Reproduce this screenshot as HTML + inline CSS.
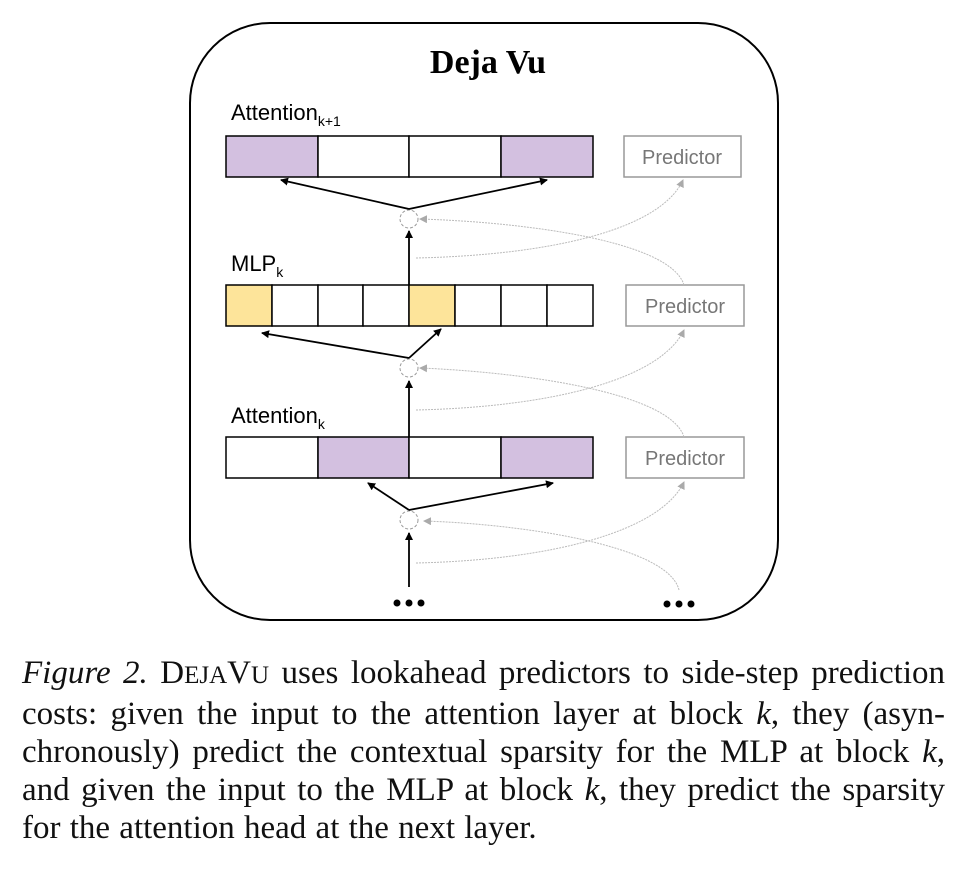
<!DOCTYPE html>
<html><head><meta charset="utf-8"><style>
body{margin:0;background:#fff;width:968px;height:874px;overflow:hidden;position:relative}
.cap{position:absolute;left:22px;width:923px;font-family:"Liberation Serif",serif;font-size:33px;line-height:38px;color:#111;top:654px;word-spacing:-1px}
.cap div{text-align:justify;text-align-last:justify;white-space:nowrap}
.cap div.last{text-align-last:left;word-spacing:1px}
</style></head><body>
<svg width="968" height="640" style="position:absolute;left:0;top:0" font-family="Liberation Sans, sans-serif">
<defs>
<marker id="a" markerWidth="8" markerHeight="8" refX="7" refY="4" orient="auto" markerUnits="userSpaceOnUse"><path d="M0,0 L8,4 L0,8 z" fill="#000"/></marker>
<marker id="g" markerWidth="8" markerHeight="8" refX="7" refY="4" orient="auto" markerUnits="userSpaceOnUse"><path d="M0,0 L8,4 L0,8 z" fill="#aaa"/></marker>
</defs>
<rect x="190" y="23" width="588" height="597" rx="80" fill="none" stroke="#000" stroke-width="2"/>
<text x="488" y="73" text-anchor="middle" font-family="Liberation Serif, serif" font-weight="bold" font-size="34">Deja Vu</text>
<text x="231" y="120" font-size="22">Attention<tspan font-size="14" dy="6">k+1</tspan></text>
<text x="231" y="271" font-size="22">MLP<tspan font-size="14" dy="6">k</tspan></text>
<text x="231" y="423" font-size="22">Attention<tspan font-size="14" dy="6">k</tspan></text>
<g stroke="#000" stroke-width="1.5">
<rect x="226" y="136" width="92" height="41" fill="#d3c0e0"/><rect x="318" y="136" width="91" height="41" fill="#fff"/><rect x="409" y="136" width="92" height="41" fill="#fff"/><rect x="501" y="136" width="92" height="41" fill="#d3c0e0"/>
</g>
<g stroke="#000" stroke-width="1.5">
<rect x="226" y="285" width="46" height="41" fill="#fde49a"/><rect x="272" y="285" width="46" height="41" fill="#fff"/><rect x="318" y="285" width="45" height="41" fill="#fff"/><rect x="363" y="285" width="46" height="41" fill="#fff"/><rect x="409" y="285" width="46" height="41" fill="#fde49a"/><rect x="455" y="285" width="46" height="41" fill="#fff"/><rect x="501" y="285" width="46" height="41" fill="#fff"/><rect x="547" y="285" width="46" height="41" fill="#fff"/>
</g>
<g stroke="#000" stroke-width="1.5">
<rect x="226" y="437" width="92" height="41" fill="#fff"/><rect x="318" y="437" width="91" height="41" fill="#d3c0e0"/><rect x="409" y="437" width="92" height="41" fill="#fff"/><rect x="501" y="437" width="92" height="41" fill="#d3c0e0"/>
</g>
<g fill="#fff" stroke="#999" stroke-width="1.5">
<rect x="624" y="136" width="117" height="41"/><rect x="626" y="285" width="118" height="41"/><rect x="626" y="437" width="118" height="41"/>
</g>
<g fill="#777" font-size="20" text-anchor="middle">
<text x="682" y="164">Predictor</text><text x="685" y="313">Predictor</text><text x="685" y="465">Predictor</text>
</g>
<g fill="none" stroke="#999" stroke-width="1" stroke-dasharray="3,2">
<circle cx="409" cy="219" r="9"/><circle cx="409" cy="368" r="9"/><circle cx="409" cy="520" r="9"/>
</g>
<g stroke="#000" stroke-width="1.8" fill="none" marker-end="url(#a)">
<line x1="409" y1="209" x2="281" y2="180"/><line x1="409" y1="209" x2="547" y2="180"/>
<line x1="409" y1="285" x2="409" y2="231"/>
<line x1="409" y1="358" x2="262" y2="333"/><line x1="409" y1="358" x2="441" y2="329"/>
<line x1="409" y1="437" x2="409" y2="381"/>
<line x1="409" y1="510" x2="368" y2="483"/><line x1="409" y1="510" x2="553" y2="483"/>
<line x1="409" y1="587" x2="409" y2="533"/>
</g>
<g stroke="#bbb" stroke-width="1" fill="none" stroke-dasharray="2,1" marker-end="url(#g)">
<path d="M416,258 C550,255 660,230 683,180"/>
<path d="M684,285 C670,240 520,222 420,219"/>
<path d="M416,410 C550,407 660,380 684,330"/>
<path d="M684,437 C670,392 520,372 420,368"/>
<path d="M416,563 C550,560 660,532 684,482"/>
<path d="M679,590 C668,545 520,524 424,521"/>
</g>
<g fill="#000">
<circle cx="397" cy="603" r="3.5"/><circle cx="409" cy="603" r="3.5"/><circle cx="421" cy="603" r="3.5"/>
<circle cx="667" cy="604" r="3.5"/><circle cx="679" cy="604" r="3.5"/><circle cx="691" cy="604" r="3.5"/>
</g>
</svg>
<div class="cap">
<div><i>Figure 2.</i> D<span style="font-size:25px">EJA</span>V<span style="font-size:25px">U</span> uses lookahead predictors to side-step prediction</div>
<div>costs: given the input to the attention layer at block <i>k</i>, they (asyn-</div>
<div>chronously) predict the contextual sparsity for the MLP at block <i>k</i>,</div>
<div>and given the input to the MLP at block <i>k</i>, they predict the sparsity</div>
<div class="last">for the attention head at the next layer.</div>
</div>
</body></html>
